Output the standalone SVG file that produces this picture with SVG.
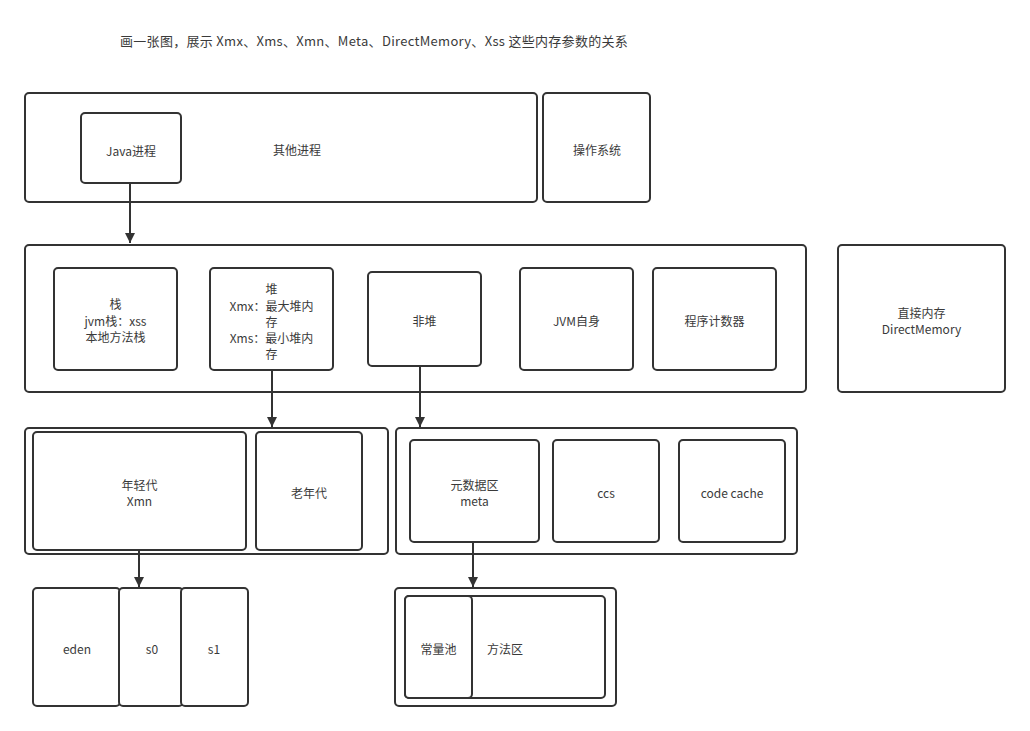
<svg xmlns="http://www.w3.org/2000/svg" width="1030" height="731" viewBox="0 0 1030 731">
<style>
rect{fill:#fff;stroke:#333;stroke-width:2}
text{font-family:"Microsoft YaHei","Noto Sans CJK SC","Noto Sans",sans-serif;font-size:12px;fill:#3a3a3a;text-anchor:middle;dominant-baseline:central}
.c path{stroke:#333;stroke-width:2;fill:none}
</style>
<defs>
<marker id="ah" viewBox="0 0 10 10" refX="10" refY="5" markerWidth="5" markerHeight="5" orient="auto" markerUnits="strokeWidth">
<path d="M0,0 L10,5 L0,10 Z" fill="#333"/>
</marker>
</defs>
<rect width="1030" height="731" style="stroke:none"/>
<text x="120" y="40.5" style="text-anchor:start;font-size:13px;letter-spacing:0.3px">画一张图，展示 Xmx、Xms、Xmn、Meta、DirectMemory、Xss 这些内存参数的关系</text>

<g id="other"><rect x="25" y="93" width="512" height="109" rx="4"/><text x="297" y="149">其他进程</text></g>
<g id="java"><rect x="81" y="113" width="100" height="70" rx="4"/><text x="131" y="150">Java进程</text></g>
<g id="os"><rect x="543" y="93" width="107" height="109" rx="4"/><text x="597" y="149">操作系统</text></g>

<g id="jvm"><rect x="25" y="245" width="781" height="147" rx="4"/></g>
<g id="stack"><rect x="54" y="268" width="123" height="102" rx="4"/><text x="115.5" y="303">栈</text><text x="115.5" y="320">jvm栈：xss</text><text x="115.5" y="336">本地方法栈</text></g>
<g id="heap"><rect x="210" y="268" width="123" height="102" rx="4"/><text x="271.5" y="288">堆</text><text x="271.5" y="305">Xmx：最大堆内</text><text x="271.5" y="321">存</text><text x="271.5" y="337">Xms：最小堆内</text><text x="271.5" y="353">存</text></g>
<g id="nonheap"><rect x="368" y="272" width="113" height="94" rx="4"/><text x="424.5" y="320">非堆</text></g>
<g id="jvmself"><rect x="520" y="268" width="113" height="102" rx="4"/><text x="576.5" y="320">JVM自身</text></g>
<g id="pc"><rect x="653" y="268" width="123" height="102" rx="4"/><text x="714.5" y="320">程序计数器</text></g>
<g id="direct"><rect x="838" y="245" width="167" height="147" rx="4"/><text x="921.5" y="312">直接内存</text><text x="921.5" y="328">DirectMemory</text></g>

<g id="heapbox"><rect x="25" y="428" width="363" height="126" rx="4"/></g>
<g id="young"><rect x="33" y="432" width="213" height="118" rx="4"/><text x="139.5" y="484">年轻代</text><text x="139.5" y="500">Xmn</text></g>
<g id="old"><rect x="256" y="432" width="106" height="118" rx="4"/><text x="309" y="492">老年代</text></g>

<g id="nonheapbox"><rect x="396" y="428" width="401" height="126" rx="4"/></g>
<g id="meta"><rect x="410" y="440" width="129" height="102" rx="4"/><text x="474.5" y="484">元数据区</text><text x="474.5" y="500">meta</text></g>
<g id="ccs"><rect x="553" y="440" width="106" height="102" rx="4"/><text x="606" y="492">ccs</text></g>
<g id="codecache"><rect x="679" y="440" width="106" height="102" rx="4"/><text x="732" y="492">code cache</text></g>

<g id="eden"><rect x="33" y="588" width="87" height="118" rx="4"/><text x="77" y="648">eden</text></g>
<g id="s0"><rect x="119" y="588" width="64" height="118" rx="4"/><text x="152" y="648">s0</text></g>
<g id="s1"><rect x="181" y="588" width="67" height="118" rx="4"/><text x="214" y="648">s1</text></g>

<g id="methodbox"><rect x="395" y="588" width="221" height="118" rx="4"/></g>
<g id="methodarea"><rect x="405" y="596" width="200" height="102" rx="4"/><text x="505" y="648">方法区</text></g>
<g id="constpool"><rect x="405" y="596" width="67" height="102" rx="4"/><text x="438.5" y="648">常量池</text></g>

<g class="c" id="connectors">
<path d="M130,183 V243" marker-end="url(#ah)"/>
<path d="M272,370 V427" marker-end="url(#ah)"/>
<path d="M420,366 V427" marker-end="url(#ah)"/>
<path d="M139,550 V587" marker-end="url(#ah)"/>
<path d="M473,542 V587" marker-end="url(#ah)"/>
</g>
</svg>
